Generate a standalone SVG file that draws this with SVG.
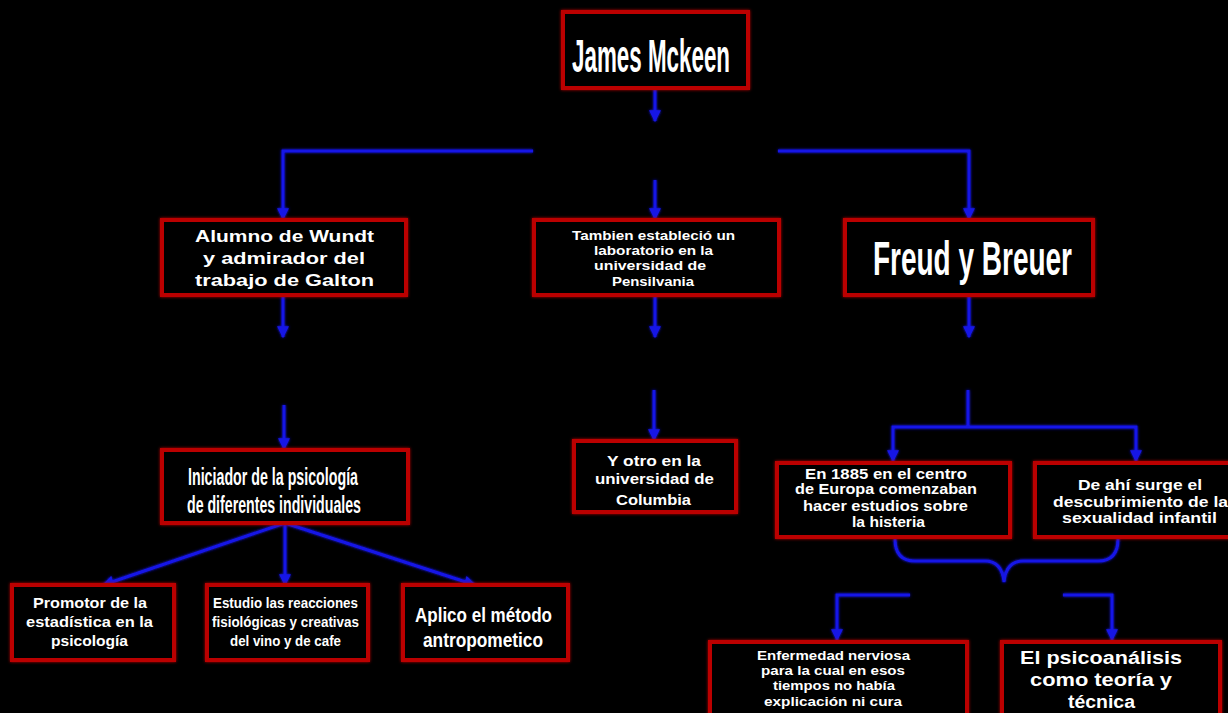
<svg xmlns="http://www.w3.org/2000/svg" width="1228" height="713" viewBox="0 0 1228 713">
<defs>
<style>
.box{fill:#000;stroke:#bb0000;stroke-width:4}
.t{font-family:"Liberation Sans",Arial,sans-serif;font-weight:bold;fill:#fff;text-anchor:middle}
.c{stroke:#1414e6;stroke-width:3;fill:none}
.a{marker-end:url(#ah)}
</style>
<filter id="glow" x="-10%" y="-10%" width="120%" height="120%">
<feGaussianBlur in="SourceGraphic" stdDeviation="1.6" result="b"/>
<feMerge><feMergeNode in="b"/><feMergeNode in="SourceGraphic"/></feMerge>
</filter>
<marker id="ah" viewBox="0 0 10 10" refX="9" refY="5" markerWidth="12" markerHeight="12" markerUnits="userSpaceOnUse" orient="auto">
<path d="M0,0 L10,5 L0,10 z" fill="#1414e6"/>
</marker>
</defs>
<rect width="1228" height="713" fill="#000"/>

<g id="connectors" filter="url(#glow)">
<path class="c a" d="M655,88 V121"/>
<path class="c a" d="M533,151 H283 V219"/>
<path class="c a" d="M778,151 H969 V219"/>
<path class="c a" d="M655,180 V219"/>
<path class="c a" d="M283,295 V337"/>
<path class="c a" d="M284,405 V449"/>
<path class="c a" d="M655,295 V337"/>
<path class="c a" d="M654,390 V440"/>
<path class="c a" d="M969,295 V337"/>
<path class="c" d="M968,390 V427"/>
<path class="c a" d="M968,427 H893 V461"/>
<path class="c a" d="M968,427 H1136 V461"/>
<path class="c a" d="M285,523 L103,585"/>
<path class="c a" d="M285,523 V585"/>
<path class="c a" d="M285,523 L475,585"/>
<path class="c" d="M895,539 Q895,561 915,561 H985 Q1002,561 1004,582 Q1006,561 1023,561 H1098 Q1118,561 1118,539"/>
<path class="c a" d="M910,595 H837 V640"/>
<path class="c a" d="M1063,595 H1112 V640"/>
</g>

<g id="n-james">
<rect class="box" x="563" y="12" width="185" height="76" filter="url(#glow)"/>
<text class="t" x="651" y="72" font-size="46" textLength="158" lengthAdjust="spacingAndGlyphs">James Mckeen</text>
</g>

<g id="n-alumno">
<rect class="box" x="162" y="220" width="244" height="75" filter="url(#glow)"/>
<text class="t" x="284.5" y="242" font-size="16.5" textLength="179" lengthAdjust="spacingAndGlyphs">Alumno de Wundt</text>
<text class="t" x="284" y="264" font-size="16.5" textLength="162" lengthAdjust="spacingAndGlyphs">y admirador del</text>
<text class="t" x="284.5" y="286" font-size="16.5" textLength="179" lengthAdjust="spacingAndGlyphs">trabajo de Galton</text>
</g>

<g id="n-tambien">
<rect class="box" x="534" y="220" width="245" height="75" filter="url(#glow)"/>
<text class="t" x="653.5" y="240" font-size="13" textLength="163" lengthAdjust="spacingAndGlyphs">Tambien estableció un</text>
<text class="t" x="653.5" y="255" font-size="13" textLength="119" lengthAdjust="spacingAndGlyphs">laboratorio en la</text>
<text class="t" x="650" y="270" font-size="13" textLength="112" lengthAdjust="spacingAndGlyphs">universidad de</text>
<text class="t" x="653" y="286" font-size="13" textLength="82" lengthAdjust="spacingAndGlyphs">Pensilvania</text>
</g>

<g id="n-freud">
<rect class="box" x="845" y="220" width="248" height="75" filter="url(#glow)"/>
<text class="t" x="972.5" y="275" font-size="48" textLength="199" lengthAdjust="spacingAndGlyphs">Freud y Breuer</text>
</g>

<g id="n-iniciador">
<rect class="box" x="162" y="450" width="246" height="73" filter="url(#glow)"/>
<text class="t" x="273" y="485" font-size="24" textLength="170" lengthAdjust="spacingAndGlyphs">Iniciador de la psicología</text>
<text class="t" x="274" y="513" font-size="24" textLength="174" lengthAdjust="spacingAndGlyphs">de diferentes individuales</text>
</g>

<g id="n-yotro">
<rect class="box" x="574" y="441" width="162" height="71" filter="url(#glow)"/>
<text class="t" x="654" y="466" font-size="15" textLength="94" lengthAdjust="spacingAndGlyphs">Y otro en la</text>
<text class="t" x="654.5" y="484" font-size="15" textLength="119" lengthAdjust="spacingAndGlyphs">universidad de</text>
<text class="t" x="653.5" y="505" font-size="15" textLength="75" lengthAdjust="spacingAndGlyphs">Columbia</text>
</g>

<g id="n-1885">
<rect class="box" x="777" y="463" width="233" height="74" filter="url(#glow)"/>
<text class="t" x="886" y="479" font-size="15" textLength="162" lengthAdjust="spacingAndGlyphs">En 1885 en el centro</text>
<text class="t" x="886" y="494" font-size="15" textLength="182" lengthAdjust="spacingAndGlyphs">de Europa comenzaban</text>
<text class="t" x="885.5" y="511" font-size="15" textLength="165" lengthAdjust="spacingAndGlyphs">hacer estudios sobre</text>
<text class="t" x="888.5" y="527" font-size="15" textLength="73" lengthAdjust="spacingAndGlyphs">la histeria</text>
</g>

<g id="n-deahi">
<rect class="box" x="1035" y="463" width="205" height="74" filter="url(#glow)"/>
<text class="t" x="1140" y="490" font-size="15" textLength="124" lengthAdjust="spacingAndGlyphs">De ahí surge el</text>
<text class="t" x="1140.5" y="507" font-size="15" textLength="175" lengthAdjust="spacingAndGlyphs">descubrimiento de la</text>
<text class="t" x="1139.5" y="523" font-size="15" textLength="155" lengthAdjust="spacingAndGlyphs">sexualidad infantil</text>
</g>

<g id="n-promotor">
<rect class="box" x="12" y="585" width="162" height="75" filter="url(#glow)"/>
<text class="t" x="90" y="608" font-size="15" textLength="114" lengthAdjust="spacingAndGlyphs">Promotor de la</text>
<text class="t" x="89.5" y="627" font-size="15" textLength="127" lengthAdjust="spacingAndGlyphs">estadística en la</text>
<text class="t" x="89.5" y="646" font-size="15" textLength="77" lengthAdjust="spacingAndGlyphs">psicología</text>
</g>

<g id="n-estudio">
<rect class="box" x="207" y="585" width="161" height="75" filter="url(#glow)"/>
<text class="t" x="285.5" y="608" font-size="15" textLength="145" lengthAdjust="spacingAndGlyphs">Estudio las reacciones</text>
<text class="t" x="285.5" y="627" font-size="15" textLength="147" lengthAdjust="spacingAndGlyphs">fisiológicas y creativas</text>
<text class="t" x="285.5" y="646" font-size="15" textLength="111" lengthAdjust="spacingAndGlyphs">del vino y de cafe</text>
</g>

<g id="n-aplico">
<rect class="box" x="403" y="585" width="165" height="75" filter="url(#glow)"/>
<text class="t" x="483.5" y="622" font-size="20" textLength="137" lengthAdjust="spacingAndGlyphs">Aplico el método</text>
<text class="t" x="483" y="647" font-size="20" textLength="120" lengthAdjust="spacingAndGlyphs">antropometico</text>
</g>

<g id="n-enfermedad">
<rect class="box" x="710" y="642" width="257" height="80" filter="url(#glow)"/>
<text class="t" x="833.5" y="660" font-size="13" textLength="153" lengthAdjust="spacingAndGlyphs">Enfermedad nerviosa</text>
<text class="t" x="833" y="675" font-size="13" textLength="144" lengthAdjust="spacingAndGlyphs">para la cual en esos</text>
<text class="t" x="834" y="690" font-size="13" textLength="122" lengthAdjust="spacingAndGlyphs">tiempos no había</text>
<text class="t" x="833" y="706" font-size="13" textLength="138" lengthAdjust="spacingAndGlyphs">explicación ni cura</text>
</g>

<g id="n-psico">
<rect class="box" x="1002" y="642" width="218" height="80" filter="url(#glow)"/>
<text class="t" x="1101" y="664" font-size="18" textLength="162" lengthAdjust="spacingAndGlyphs">El psicoanálisis</text>
<text class="t" x="1101" y="686" font-size="18" textLength="142" lengthAdjust="spacingAndGlyphs">como teoría y</text>
<text class="t" x="1101.5" y="708" font-size="18" textLength="67" lengthAdjust="spacingAndGlyphs">técnica</text>
</g>
</svg>
